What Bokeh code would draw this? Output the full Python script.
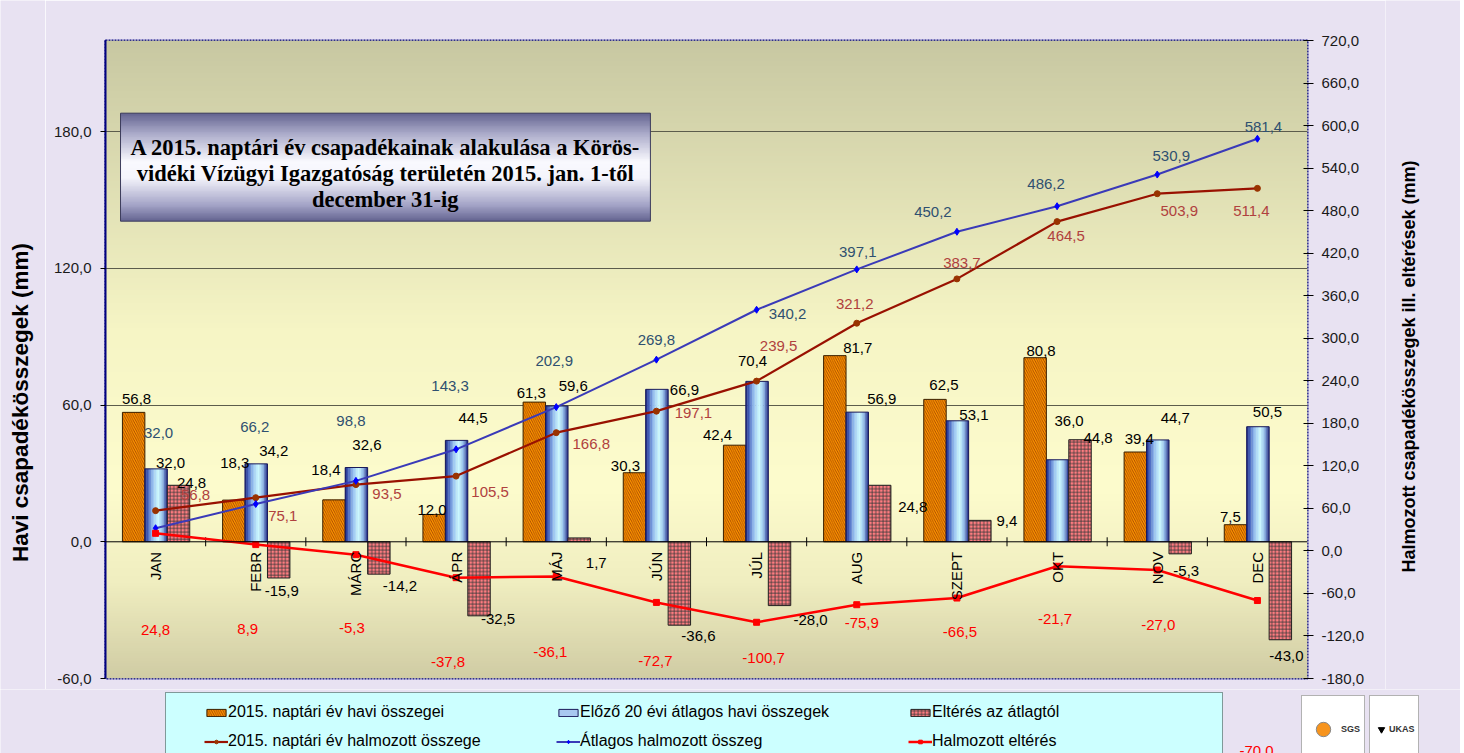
import math
import numpy as np
from bokeh.plotting import figure
from bokeh.layouts import column, row
from bokeh.models import (Range1d, LinearAxis, FixedTicker, ColumnDataSource, LabelSet,
                          Label, Legend, LegendItem, Span)
from bokeh.core.properties import value
from bokeh.embed import file_html
from bokeh.resources import INLINE

# ---------------- data ----------------
months = ["JAN", "FEBR", "MÁRC", "ÁPR", "MÁJ", "JÚN", "JÚL", "AUG", "SZEPT", "OKT", "NOV", "DEC"]
monthly_2015 = [56.8, 18.3, 18.4, 12.0, 61.3, 30.3, 42.4, 81.7, 62.5, 80.8, 39.4, 7.5]
monthly_avg = [32.0, 34.2, 32.6, 44.5, 59.6, 66.9, 70.4, 56.9, 53.1, 36.0, 44.7, 50.5]
monthly_dev = [24.8, -15.9, -14.2, -32.5, 1.7, -36.6, -28.0, 24.8, 9.4, 44.8, -5.3, -43.0]
cum_2015 = [56.8, 75.1, 93.5, 105.5, 166.8, 197.1, 239.5, 321.2, 383.7, 464.5, 503.9, 511.4]
cum_avg = [32.0, 66.2, 98.8, 143.3, 202.9, 269.8, 340.2, 397.1, 450.2, 486.2, 530.9, 581.4]
cum_dev = [24.8, 8.9, -5.3, -37.8, -36.1, -72.7, -100.7, -75.9, -66.5, -21.7, -27.0, -70.0]
left_ticks = [-60, 0, 60, 120, 180]
right_ticks = [-180, -120, -60, 0, 60, 120, 180, 240, 300, 360, 420, 480, 540, 600, 660, 720]
series_names = ["2015. naptári év havi összegei", "Előző 20 évi átlagos havi összegek",
                "Eltérés az átlagtól", "2015. naptári év halmozott összege",
                "Átlagos halmozott összeg", "Halmozott eltérés"]
title_lines = ["A 2015. naptári év csapadékainak alakulása a Körös-",
               "vidéki Vízügyi Igazgatóság területén 2015. jan. 1-től",
               "december 31-ig"]
left_title = "Havi csapadékösszegek (mm)"
right_title = "Halmozott csapadékösszegek ill. eltérések (mm)"

# label offsets in screen pixels (dx to the right, dy downward) - placement only
off_2015 = [(-19, -13), (-21, -37), (-30, -30), (-24, -4), (-25, -9), (-31, -7), (-39, -10),
            (1, -8), (-13, -14), (-16, -7), (-18, -13), (-27, -8)]
off_avg = [(15, -6), (18, -13), (11, -23), (17, -22), (17, -20), (28, 1), (-4, -20),
           (25, -13), (17, -6), (12, -39), (18, -22), (10, -15)]
off_dev = [(36, -2), (26, 13), (44, 12), (42, 3), (40, 25), (42, 11), (54, 14),
           (56, 22), (50, 1), (41, -2), (29, 17), (29, 16)]
off_cum2015 = [(40, -16), (27, 18), (31, 9), (34, 16), (35, 11), (37, 2), (22, -35),
               (-2, -19), (5, -16), (9, 14), (22, 17), (-6, 23)]
off_cumavg = [(3, -95), (-1, -77), (-5, -60), (-6, -63), (-2, -46), (0, -20), (31, 4),
              (1, -17), (-24, -20), (-11, -22), (14, -19), (6, -12)]
off_cumdev = [(0, 97), (-8, 84), (-4, 73), (-8, 84), (-6, 76), (-1, 59), (7, 36),
              (5, 18), (3, 34), (-2, 53), (1, 55)]


def fmt(v):
    return f"{v:.1f}".replace(".", ",")


FONT = "Liberation Sans"
BG = "#E8E2F2"
W_ALL = 1460
W_LEFT = 45            # strip holding the left axis title
W_RIGHT = 75           # strip holding the right axis title
W_MAIN = W_ALL - W_LEFT - W_RIGHT
H_MAIN = 689
H_LEG = 64
n = len(months)
xc = [i + 0.5 for i in range(n)]
BAR_W = 0.224
SHIFT = 0.005
Y0, Y1 = -60, 220
R0, R1 = -180, 720

p = figure(width=W_MAIN, height=H_MAIN, x_range=Range1d(0, n), y_range=Range1d(Y0, Y1),
           output_backend="svg", toolbar_location=None,
           min_border_left=105 - W_LEFT, min_border_right=W_LEFT + W_MAIN - 1307,
           min_border_top=40, min_border_bottom=H_MAIN - 678,
           background_fill_color="#F5F3C3", border_fill_color=BG,
           outline_line_color="#000080", outline_line_width=2, outline_line_dash="2 1")
p.extra_y_ranges = {"right": Range1d(R0, R1)}


def ramp(stops, N):
    ts = np.array([s[0] for s in stops], float)
    cols = np.array([s[1] for s in stops], float)
    t = 1.0 - (np.arange(N) + 0.5) / N
    img = np.empty((N, 1), dtype=np.uint32)
    v = img.view(dtype=np.uint8).reshape((N, 1, 4))
    for k in range(3):
        v[:, 0, k] = np.interp(t, ts, cols[:, k]).astype(np.uint8)
    v[:, 0, 3] = 255
    return img


# plot-area gradient background
bg = ramp([(0.0, (200, 200, 162)), (0.45, (246, 245, 197)), (0.7, (253, 252, 205)),
           (0.85, (240, 238, 192)), (1.0, (208, 204, 164))], 256)
p.image_rgba(image=[bg], x=0, y=Y0, dw=n, dh=Y1 - Y0, level="image")

# ---------------- styles ----------------
ORANGE = dict(fill_color="#FF9900", line_color="#3A2000", line_width=1,
              hatch_pattern="left_diagonal_line", hatch_color="#A04000",
              hatch_scale=4.5, hatch_weight=0.9)
CHECK = dict(fill_color="#FF7C80", line_color="#222222", line_width=1,
             hatch_pattern="cross", hatch_color="#383838", hatch_scale=3.6, hatch_weight=0.8)
L1 = dict(line_color="#991100", line_width=2.2)
M1 = dict(marker="circle", size=6, fill_color="#993300", line_color="#993300")
L2 = dict(line_color="#3A3AB8", line_width=2)
M2 = dict(marker="diamond", size=7, fill_color="#0000FF", line_color="#0000FF")
L3 = dict(line_color="#FF0000", line_width=2.5)
M3 = dict(marker="square", size=6, fill_color="#FF0000", line_color="#FF0000")

# ---------------- bars ----------------
p.vbar(x=[x - BAR_W + SHIFT for x in xc], top=monthly_2015, bottom=0, width=BAR_W, **ORANGE)

NS = 14
strip_stops = [(0.0, (30, 40, 130)), (0.15, (70, 100, 190)), (0.35, (150, 190, 240)),
               (0.6, (205, 250, 255)), (0.8, (150, 190, 235)), (1.0, (35, 45, 135))]
sts = np.array([s[0] for s in strip_stops])
scs = np.array([s[1] for s in strip_stops], float)
for k in range(NS):
    s = (k + 0.5) / NS
    rgb = tuple(int(np.interp(s, sts, scs[:, j])) for j in range(3))
    col = "#%02x%02x%02x" % rgb
    off = -BAR_W / 2 + s * BAR_W
    p.vbar(x=[x + SHIFT + off for x in xc], top=monthly_avg, bottom=0,
           width=BAR_W / NS * 1.25, fill_color=col, line_color=None)
p.vbar(x=[x + SHIFT for x in xc], top=monthly_avg, bottom=0, width=BAR_W,
       fill_color=None, line_color="#1A1A5A", line_width=1)

p.vbar(x=[x + BAR_W + SHIFT for x in xc], top=monthly_dev, bottom=0, width=BAR_W, **CHECK)

# zero line and category boundary ticks
p.add_layout(Span(location=0, dimension="width", line_color="#000000", line_width=1))
p.scatter(x=list(range(1, n)), y=[0] * (n - 1), marker="dash", size=9, angle=math.pi / 2,
          line_color="#000000", line_width=1)

# ---------------- lines ----------------
p.line(xc, cum_2015, y_range_name="right", **L1)
p.scatter(xc, cum_2015, y_range_name="right", **M1)
p.line(xc, cum_avg, y_range_name="right", **L2)
p.scatter(xc, cum_avg, y_range_name="right", **M2)
p.line(xc, cum_dev, y_range_name="right", **L3)
p.scatter(xc, cum_dev, y_range_name="right", **M3)

# ---------------- title box ----------------
TB = dict(left=0.15, right=5.44, bottom=140.7, top=188.1)
tb_img = ramp([(0.0, (100, 100, 145)), (0.2, (175, 175, 205)), (0.45, (250, 250, 255)),
               (0.6, (245, 245, 252)), (0.85, (165, 165, 200)), (1.0, (100, 100, 145))], 128)
p.image_rgba(image=[tb_img], x=TB["left"], y=TB["bottom"], dw=TB["right"] - TB["left"],
             dh=TB["top"] - TB["bottom"])
p.quad(left=[TB["left"]], right=[TB["right"]], top=[TB["top"]], bottom=[TB["bottom"]],
       fill_color=None, line_color="#3C3C5C", line_width=1)
tcx = (TB["left"] + TB["right"]) / 2
for txt, ty in zip(title_lines, [173.05, 161.64, 150.23]):
    p.add_layout(Label(x=tcx, y=ty, text=txt, text_align="center", text_baseline="alphabetic",
                       text_font="Liberation Serif", text_font_style="bold",
                       text_font_size="22.5px", text_color="#000000"))

# ---------------- axes ----------------
p.xaxis.visible = False
p.xgrid.visible = False

la = p.yaxis[0]
la.ticker = FixedTicker(ticks=left_ticks)
la.major_label_overrides = {t: fmt(t) for t in left_ticks}
la.major_tick_out = 5
la.major_tick_in = 0
la.major_tick_line_color = "#000000"
la.axis_line_color = "#000080"
la.axis_line_width = 2
la.major_label_standoff = 9
la.major_label_text_font = FONT
la.major_label_text_font_size = "15px"
la.major_label_text_color = "#1A1A1A"

ra = LinearAxis(y_range_name="right", ticker=FixedTicker(ticks=right_ticks))
ra.major_label_overrides = {t: fmt(t) for t in right_ticks}
ra.major_tick_out = 6
ra.major_tick_in = 4
ra.major_tick_line_color = "#000000"
ra.axis_line_color = None
ra.major_label_standoff = 8
ra.major_label_text_font = FONT
ra.major_label_text_font_size = "15px"
ra.major_label_text_color = "#1A1A1A"
p.add_layout(ra, "right")

p.ygrid[0].ticker = FixedTicker(ticks=[t for t in left_ticks if t > 0])
p.ygrid.grid_line_color = "#5C5C4C"
p.ygrid.grid_line_width = 1

# month names, rotated, just below the zero line
msrc = ColumnDataSource(dict(x=xc, y=[0] * n, t=months))
p.add_layout(LabelSet(x="x", y="y", text="t", source=msrc, angle=math.pi / 2, y_offset=-10,
                      text_align="right", text_baseline="middle", text_font=value(FONT),
                      text_font_size="15px", text_color="#000000"))


# ---------------- data labels ----------------
def add_labels(vals, offs, color, range_name="default"):
    k = len(offs)
    src = ColumnDataSource(dict(x=xc[:k], y=vals[:k], t=[fmt(v) for v in vals[:k]],
                                dx=[o[0] for o in offs], dy=[-o[1] for o in offs]))
    p.add_layout(LabelSet(x="x", y="y", text="t", x_offset="dx", y_offset="dy", source=src,
                          y_range_name=range_name, text_align="center", text_baseline="middle",
                          text_font=value(FONT), text_font_size="15px", text_color=color))


add_labels(monthly_2015, off_2015, "#000000")
add_labels(monthly_avg, off_avg, "#000000")
add_labels(monthly_dev, off_dev, "#000000")
add_labels(cum_2015, off_cum2015, "#B0413E", "right")
add_labels(cum_avg, off_cumavg, "#2F5070", "right")
add_labels(cum_dev, off_cumdev, "#FF0000", "right")


def strip(width, height):
    f = figure(width=width, height=height, x_range=Range1d(0, width), y_range=Range1d(0, height),
               x_axis_type=None, y_axis_type=None, toolbar_location=None, output_backend="svg",
               min_border=0, background_fill_color=BG, border_fill_color=BG,
               outline_line_color=None)
    f.xgrid.visible = False
    f.ygrid.visible = False
    return f


# ---------------- side strips with the axis titles (pixel data units) ----------------
ls = strip(W_LEFT, H_MAIN)
ls.add_layout(Label(x=20, y=H_MAIN - 402, text=left_title, angle=math.pi / 2,
                    text_align="center", text_baseline="middle", text_font=FONT,
                    text_font_style="bold", text_font_size="22.5px", text_color="#000000"))
rf = strip(W_RIGHT, H_MAIN)
rf.add_layout(Label(x=1408 - W_LEFT - W_MAIN, y=H_MAIN - 366, text=right_title,
                    angle=math.pi / 2, text_align="center", text_baseline="middle",
                    text_font=FONT, text_font_style="bold", text_font_size="18px",
                    text_color="#000000"))

# ---------------- legend strip (full width, pixel data units) ----------------
lf = strip(W_ALL, H_LEG)

for fig in (p, lf, rf, ls):
    try:
        fig.frame_align = False
    except Exception:
        pass

# legend-only sample glyphs, parked outside the visible range
OFF = [-100]
g_orange = lf.vbar(x=OFF, top=[0], width=1, **ORANGE)
g_blue = lf.vbar(x=OFF, top=[0], width=1, fill_color="#A8C8F0", line_color="#1A1A5A",
                 line_width=1)
g_check = lf.vbar(x=OFF, top=[0], width=1, **CHECK)
g_l1 = lf.line(x=[-100, -99], y=[0, 0], **L1)
g_m1 = lf.scatter(x=OFF, y=[0], **M1)
g_l2 = lf.line(x=[-100, -99], y=[0, 0], **L2)
g_m2 = lf.scatter(x=OFF, y=[0], **M2)
g_l3 = lf.line(x=[-100, -99], y=[0, 0], **L3)
g_m3 = lf.scatter(x=OFF, y=[0], **M3)
dummy = lf.scatter(x=OFF, y=[0], size=1, fill_alpha=0, line_alpha=0)

# legend frame (bottom cut off as in the reference)
lf.add_layout(Legend(items=[LegendItem(label=" ", renderers=[dummy])], location=(165, -7),
                     padding=0, margin=0, spacing=0, glyph_width=1, glyph_height=66,
                     label_width=1055, label_height=66, label_standoff=0,
                     background_fill_color="#CCFFFF", background_fill_alpha=1,
                     border_line_color="#333333", border_line_width=1))

col_items = [
    [LegendItem(label=series_names[0], renderers=[g_orange]),
     LegendItem(label=series_names[3], renderers=[g_l1, g_m1])],
    [LegendItem(label=series_names[1], renderers=[g_blue]),
     LegendItem(label=series_names[4], renderers=[g_l2, g_m2])],
    [LegendItem(label=series_names[2], renderers=[g_check]),
     LegendItem(label=series_names[5], renderers=[g_l3, g_m3])],
]
for items, lx in zip(col_items, [204, 556, 908]):
    lf.add_layout(Legend(items=items, location=(lx, 2), padding=0, margin=0, spacing=9,
                         glyph_width=24, glyph_height=9, label_height=20, label_standoff=0,
                         label_text_font=FONT, label_text_font_size="16px",
                         label_text_color="#000000", background_fill_alpha=0,
                         border_line_color=None))

# last cumulative-deviation label falls below the plot, partly visible as in the reference
lf.add_layout(Label(x=1256, y=3, text=fmt(cum_dev[-1]), text_align="center",
                    text_baseline="middle", text_font=FONT, text_font_size="15px",
                    text_color="#FF0000"))

# certification logos (approximation)
logo_a = lf.scatter(x=OFF, y=[0], marker="circle", size=10, fill_color="#F7941D",
                    line_color="#888888")
logo_b = lf.scatter(x=OFF, y=[0], marker="inverted_triangle", size=10, fill_color="#000000",
                    line_color="#000000")
for item, lx, gw in [(LegendItem(label="SGS", renderers=[logo_a]), 1301, 36),
                     (LegendItem(label="UKAS", renderers=[logo_b]), 1369, 16)]:
    lf.add_layout(Legend(items=[item], location=(lx, -10), padding=3, margin=0,
                         glyph_width=gw, glyph_height=60, label_height=60, label_standoff=0,
                         label_text_font=FONT, label_text_font_size="9px",
                         label_text_font_style="bold", label_text_color="#333333",
                         background_fill_color="#FFFFFF", background_fill_alpha=1,
                         border_line_color="#666666", border_line_width=1))

layout = column(row(ls, p, rf, spacing=0), lf, spacing=0)
open("out.html", "w").write(file_html(layout, INLINE))
